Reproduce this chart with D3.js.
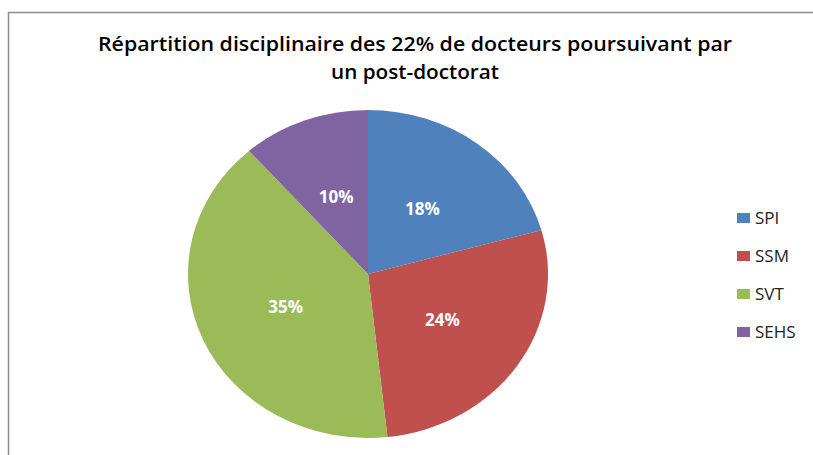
<!DOCTYPE html>
<html><head><meta charset="utf-8">
<script src="https://cdn.jsdelivr.net/npm/d3@7"></script>
<style>html,body{margin:0;padding:0;background:#fff;}svg{display:block;}</style>
</head><body>
<script>
const categories = ["SPI", "SSM", "SVT", "SEHS"];
const values = [18, 24, 35, 10];
const colors = ["#4F81BD", "#C0504D", "#9BBB59", "#8064A2"];
const titleLines = ["Répartition disciplinaire des 22% de docteurs poursuivant par", "un post-doctorat"];

const W = 813, H = 455;
const svg = d3.select("body").append("svg").attr("width", W).attr("height", H);
svg.append("rect").attr("width", W).attr("height", H).attr("fill", "#fff");

// frame
svg.append("path").attr("d", `M8.5,${H} L8.5,12.5 L${W},12.5`)
  .attr("fill", "none").attr("stroke", "#8a8a8a").attr("stroke-width", 1.5);

// title
const tl = [{t: titleLines[0], y: 51, w: 634}, {t: titleLines[1], y: 79, w: 168}];
svg.selectAll("text.title").data(tl).join("text").attr("class", "title")
  .attr("x", 415).attr("y", d => d.y).attr("text-anchor", "middle")
  .attr("font-family", "Open Sans, sans-serif").attr("font-weight", 600)
  .attr("font-size", 20).attr("fill", "#000")
  .attr("textLength", d => d.w).attr("lengthAdjust", "spacingAndGlyphs")
  .text(d => d.t);

// pie (ellipse)
const cx = 368, cy = 274, rx = 180, ry = 164;
const sx = rx / ry;
const pie = d3.pie().sort(null).value(d => d.v);
const data = pie(categories.map((c, i) => ({c, v: values[i], col: colors[i]})));
const arc = d3.arc().innerRadius(0).outerRadius(ry);
const g = svg.append("g").attr("transform", `translate(${cx},${cy}) scale(${sx},1)`);
g.selectAll("path").data(data).join("path")
  .attr("d", arc).attr("fill", d => d.data.col);

svg.selectAll("text.lbl").data(data).join("text").attr("class", "lbl")
  .attr("x", d => cx + arc.centroid(d)[0] * sx)
  .attr("y", d => cy + arc.centroid(d)[1])
  .attr("dy", "0.36em").attr("text-anchor", "middle")
  .attr("font-family", "Open Sans, sans-serif").attr("font-weight", 700)
  .attr("font-size", 17).attr("fill", "#fff")
  .text(d => d.data.v + "%");

// legend
const lg = svg.append("g");
const rows = lg.selectAll("g").data(categories).join("g")
  .attr("transform", (d, i) => `translate(737,${218 + i * 38})`);
rows.append("rect").attr("x", 0).attr("y", -5).attr("width", 13).attr("height", 10)
  .attr("fill", (d, i) => colors[i]);
rows.append("text").attr("x", 18).attr("y", 0).attr("dy", "0.36em")
  .attr("font-family", "Open Sans, sans-serif").attr("font-size", 17)
  .attr("fill", "#222").text(d => d);
</script>
</body></html>
